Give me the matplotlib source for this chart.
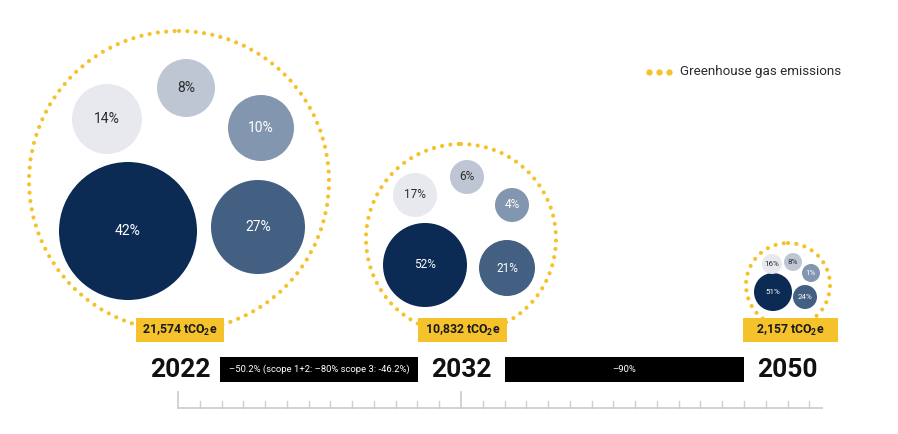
import numpy as np
import matplotlib.pyplot as plt
from matplotlib.patches import Circle, Rectangle

# ---- data ----
years = ["2022", "2032", "2050"]
totals = ["21,574", "10,832", "2,157"]
shares_2022 = [42, 27, 10, 8, 14]
shares_2032 = [52, 21, 4, 6, 17]
shares_2050 = [51, 24, 1, 8, 16]
reductions = ["\u201350.2% (scope 1+2: \u201380% scope 3: -46.2%)", "\u201390%"]
legend_label = "Greenhouse gas emissions"

# ---- layout (pixel space) ----
shades = ["#0b2b54", "#435f82", "#8296af", "#bec6d4", "#e7e9ef"]
txt_col = ["white", "white", "white", "#2b2b2b", "#2b2b2b"]
group_center = [(179, 181), (461, 239), (788, 285)]
ring_r = [150, 95, 42]
inner_xy = [
    [(128, 231), (258, 227), (261, 128), (186, 88), (107, 119)],
    [(425, 265), (507, 268), (512, 205), (467, 177), (415, 195)],
    [(773, 292), (805, 297), (811, 273), (793, 262), (772, 264)],
]
inner_r = [
    [69, 47, 33, 29, 35],
    [42, 28, 17, 17, 22],
    [19, 12, 9, 9, 10],
]
pct_size = [10, 8.5, 5.8]
box = [(136, 224), (418, 507), (743, 838)]
year_x = [180, 461, 787]
bar_x = [(220, 418), (505, 744)]

YELLOW = "#f5c22c"
plt.rcParams["font.family"] = ["Roboto", "DejaVu Sans"]
plt.rcParams["mathtext.fontset"] = "custom"
plt.rcParams["mathtext.rm"] = "Roboto:bold"

fig = plt.figure(figsize=(8.98, 4.34), dpi=100)
ax = fig.add_axes([0, 0, 1, 1])
ax.set_xlim(0, 898)
ax.set_ylim(434, 0)
ax.axis("off")

all_shares = [shares_2022, shares_2032, shares_2050]
for g in range(3):
    cx, cy = group_center[g]
    ax.add_patch(Circle((cx, cy), ring_r[g], fill=False, ec=YELLOW, lw=3.0,
                        ls=(0, (0.01, 2.0)), capstyle="round", zorder=1))
    for k, val in enumerate(all_shares[g]):
        x, y = inner_xy[g][k]
        ax.add_patch(Circle((x, y), inner_r[g][k], fc=shades[k], ec="none", zorder=2))
        ax.text(x, y, f"{val}%", ha="center", va="center", color=txt_col[k],
                fontsize=pct_size[g], zorder=3)
    x0, x1 = box[g]
    ax.add_patch(Rectangle((x0, 318), x1 - x0, 24, fc=YELLOW, ec="none", zorder=4))
    ax.text((x0 + x1) / 2, 330.5, totals[g] + r" tCO$_\mathregular{2}$e", ha="center",
            va="center", fontsize=8.8, fontweight="bold", color="#1a1a1a", zorder=5)
    ax.text(year_x[g], 370, years[g], ha="center", va="center", fontsize=19,
            fontweight="bold", color="#111111")

for (x0, x1), lab in zip(bar_x, reductions):
    ax.add_patch(Rectangle((x0, 357), x1 - x0, 25, fc="black", ec="none"))
    ax.text((x0 + x1) / 2, 369.5, lab, ha="center", va="center", color="white",
            fontsize=6.8)

# timeline ruler
tick_step = (461 - 178) / 13
ax.plot([178, 823], [408, 408], color="#cfcfcf", lw=1.3, solid_capstyle="butt")
for xm in (178, 461):
    ax.plot([xm, xm], [392, 408], color="#cfcfcf", lw=1.3)
for k in range(1, 30):
    xt = 178 + k * tick_step
    if abs(xt - 461) < 1 or xt > 815:
        continue
    ax.plot([xt, xt], [401, 408], color="#cfcfcf", lw=1.0)

# legend
for xd in (649, 659, 669):
    ax.plot(xd, 72, "o", ms=4.5, color=YELLOW, mec="none")
ax.text(680, 72, legend_label, ha="left", va="center", fontsize=9.6,
        color="#2b2b2b")

fig.savefig("out.png", dpi=100)
